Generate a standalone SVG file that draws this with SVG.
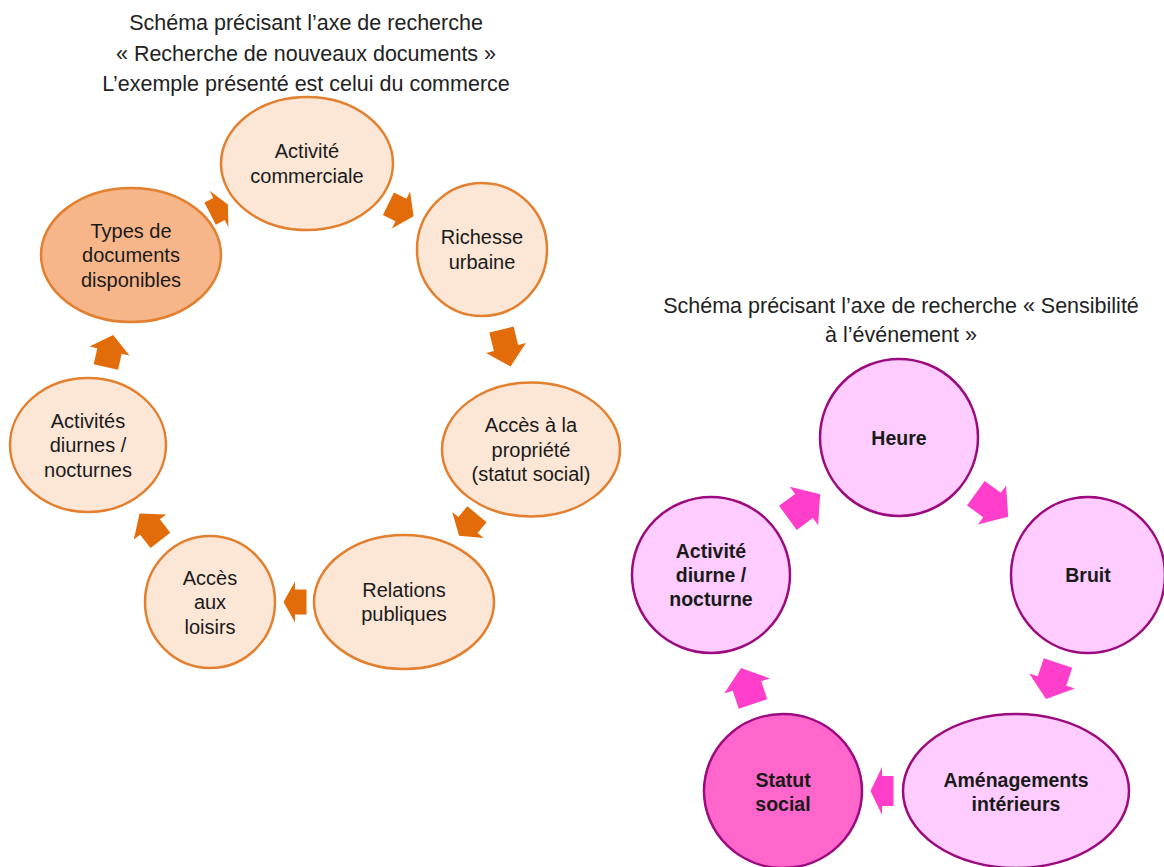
<svg xmlns="http://www.w3.org/2000/svg" width="1164" height="867" viewBox="0 0 1164 867">
<style>
text{font-family:"Liberation Sans",Arial,sans-serif;text-anchor:middle;fill:#1a1a1a}
.title{font-size:21.5px;fill:#222222}
.on{font-size:20px}
.pn{font-size:19.5px;font-weight:bold}
.o-light{fill:#fce6d6;stroke:#e2802f;stroke-width:2.5}
.o-dark{fill:#f6b68a;stroke:#e2802f;stroke-width:2.5}
.p-light{fill:#ffccff;stroke:#9c0a80;stroke-width:2.5}
.p-dark{fill:#ff66cc;stroke:#9c0a80;stroke-width:2.5}
.oa{fill:#e36c0a}
.pa{fill:#ff3fcc}
</style>
<rect width="1164" height="867" fill="#ffffff"/>
<g id="title-left">
<text class="title" x="306" y="30">Schéma précisant l’axe de recherche</text>
<text class="title" x="306" y="61">« Recherche de nouveaux documents »</text>
<text class="title" x="306" y="91">L’exemple présenté est celui du commerce</text>
</g>
<g id="title-right">
<text class="title" x="901" y="313">Schéma précisant l’axe de recherche « Sensibilité</text>
<text class="title" x="901" y="342">à l’événement »</text>
</g>
<g id="connectors">
<path class="oa" transform="translate(219,209) rotate(-27.3)" d="M-10,-12.5H0V-20.5L10,0L0,20.5V12.5H-10Z"/>
<path class="oa" transform="translate(401,210) rotate(26.2)" d="M-14,-12.5H0V-20.5L14,0L0,20.5V12.5H-14Z"/>
<path class="oa" transform="translate(506,348) rotate(76.2)" d="M-19,-12.5H0V-20.5L19,0L0,20.5V12.5H-19Z"/>
<path class="oa" transform="translate(468,525) rotate(129.8)" d="M-14,-12.5H0V-20.5L14,0L0,20.5V12.5H-14Z"/>
<path class="oa" transform="translate(295,602) rotate(180)" d="M-11.5,-12.5H0V-20.5L11.5,0L0,20.5V12.5H-11.5Z"/>
<path class="oa" transform="translate(150,527) rotate(232.2)" d="M-17,-12.5H0V-20.5L17,0L0,20.5V12.5H-17Z"/>
<path class="oa" transform="translate(109.5,351) rotate(-77.2)" d="M-16.5,-12.5H0V-20.5L16.5,0L0,20.5V12.5H-16.5Z"/>
<path class="pa" transform="translate(804,506) rotate(-36.2)" d="M-20,-15H0V-24L20,0L0,24V15H-20Z"/>
<path class="pa" transform="translate(992,505) rotate(36)" d="M-20,-15H0V-24L20,0L0,24V15H-20Z"/>
<path class="pa" transform="translate(1052,681) rotate(108.4)" d="M-19,-15H0V-24L19,0L0,24V15H-19Z"/>
<path class="pa" transform="translate(882,791) rotate(180)" d="M-11.5,-15H0V-24L11.5,0L0,24V15H-11.5Z"/>
<path class="pa" transform="translate(747,686) rotate(251.6)" d="M-19,-15H0V-24L19,0L0,24V15H-19Z"/>
</g>
<g id="n-activite-commerciale">
<ellipse class="o-light" cx="307" cy="163.5" rx="86" ry="66.5"/>
<text class="on" x="307" y="158">Activité</text>
<text class="on" x="307" y="183">commerciale</text>
</g>
<g id="n-richesse-urbaine">
<ellipse class="o-light" cx="482" cy="249.5" rx="65" ry="66.5"/>
<text class="on" x="482" y="244">Richesse</text>
<text class="on" x="482" y="268.5">urbaine</text>
</g>
<g id="n-acces-propriete">
<ellipse class="o-light" cx="531" cy="449.5" rx="89" ry="67"/>
<text class="on" x="531" y="432">Accès à la</text>
<text class="on" x="531" y="456.5">propriété</text>
<text class="on" x="531" y="481">(statut social)</text>
</g>
<g id="n-relations-publiques">
<ellipse class="o-light" cx="404" cy="602" rx="90" ry="67"/>
<text class="on" x="404" y="596.5">Relations</text>
<text class="on" x="404" y="621">publiques</text>
</g>
<g id="n-acces-loisirs">
<ellipse class="o-light" cx="210" cy="602" rx="65" ry="66"/>
<text class="on" x="210" y="584.5">Accès</text>
<text class="on" x="210" y="609">aux</text>
<text class="on" x="210" y="633.5">loisirs</text>
</g>
<g id="n-activites-diurnes">
<ellipse class="o-light" cx="88" cy="445" rx="78" ry="67"/>
<text class="on" x="88" y="427.5">Activités</text>
<text class="on" x="88" y="452">diurnes /</text>
<text class="on" x="88" y="476.5">nocturnes</text>
</g>
<g id="n-types-documents">
<ellipse class="o-dark" cx="131" cy="255" rx="90" ry="67"/>
<text class="on" x="131" y="237.5">Types de</text>
<text class="on" x="131" y="262">documents</text>
<text class="on" x="131" y="286.5">disponibles</text>
</g>
<g id="n-heure">
<ellipse class="p-light" cx="899" cy="437.5" rx="79" ry="78.5"/>
<text class="pn" x="899" y="445">Heure</text>
</g>
<g id="n-bruit">
<ellipse class="p-light" cx="1088" cy="575" rx="77" ry="78"/>
<text class="pn" x="1088" y="582">Bruit</text>
</g>
<g id="n-amenagements">
<ellipse class="p-light" cx="1016" cy="791" rx="113" ry="77"/>
<text class="pn" x="1016" y="786.5">Aménagements</text>
<text class="pn" x="1016" y="810.5">intérieurs</text>
</g>
<g id="n-statut-social">
<ellipse class="p-dark" cx="783" cy="791" rx="79" ry="77"/>
<text class="pn" x="783" y="786.5">Statut</text>
<text class="pn" x="783" y="810.5">social</text>
</g>
<g id="n-activite-diurne">
<ellipse class="p-light" cx="711" cy="575" rx="79" ry="78"/>
<text class="pn" x="711" y="557.5">Activité</text>
<text class="pn" x="711" y="581.5">diurne /</text>
<text class="pn" x="711" y="605.5">nocturne</text>
</g>
</svg>
